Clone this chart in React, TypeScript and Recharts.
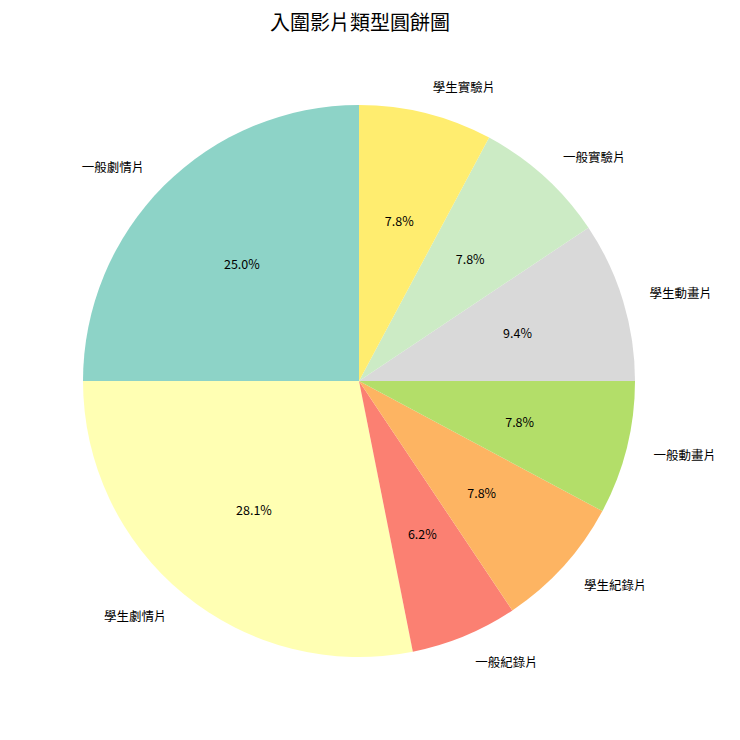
import { PieChart, Pie, Cell } from "recharts";

const categories = ["一般劇情片", "學生劇情片", "一般紀錄片", "學生紀錄片", "一般動畫片", "學生動畫片", "一般實驗片", "學生實驗片"];
const counts = [16, 18, 4, 5, 5, 6, 5, 5];
const colors = ["#8dd3c7", "#ffffb3", "#fb8072", "#fdb462", "#b3de69", "#d9d9d9", "#ccebc5", "#ffed6f"];

const total = counts.reduce((a, b) => a + b, 0);
const data = categories.map((name, i) => ({ name, value: counts[i] }));

const RAD = Math.PI / 180;
const FONT = "'Noto Sans CJK TC', 'Noto Sans', sans-serif";

// one decimal, ties to even (like "%1.1f%%")
const fmtPct = (v: number) => {
  const x = v * 10;
  const f = Math.floor(x);
  const d = x - f;
  let r = f;
  if (Math.abs(d - 0.5) < 1e-9) r = f % 2 === 0 ? f : f + 1;
  else r = Math.round(x);
  return (r / 10).toFixed(1) + "%";
};

const renderLabel = ({ cx, cy, midAngle, outerRadius, name, value }: any) => {
  const cos = Math.cos(-midAngle * RAD);
  const sin = Math.sin(-midAngle * RAD);
  const nx = cx + outerRadius * 1.1 * cos;
  const ny = cy + outerRadius * 1.1 * sin;
  const px = cx + outerRadius * 0.6 * cos;
  const py = cy + outerRadius * 0.6 * sin;
  return (
    <g>
      <text x={nx} y={ny} textAnchor={cos >= 0 ? "start" : "end"} dominantBaseline="central"
        fontSize={12.5} fill="#000" fontFamily={FONT}>
        {name}
      </text>
      <text x={px} y={py} textAnchor="middle" dominantBaseline="central"
        fontSize={12.5} fill="#000" fontFamily={FONT}>
        {fmtPct((value / total) * 100)}
      </text>
    </g>
  );
};

export default function App() {
  return (
    <div style={{ position: "absolute", left: 0, top: 0, width: 740, height: 740, background: "#fff" }}>
      <div style={{ position: "absolute", top: 7, left: 0, width: 720, textAlign: "center", fontFamily: FONT, fontSize: 20, fontWeight: 400, color: "#000", lineHeight: "30px" }}>
        入圍影片類型圓餅圖
      </div>
      <PieChart width={740} height={740} margin={{ top: 0, right: 0, bottom: 0, left: 0 }}>
        <Pie
          data={data}
          dataKey="value"
          nameKey="name"
          cx={359}
          cy={381}
          outerRadius={276}
          startAngle={90}
          endAngle={450}
          stroke="none"
          label={renderLabel}
          labelLine={false}
          isAnimationActive={false}
        >
          {data.map((d, i) => (
            <Cell key={d.name} fill={colors[i]} />
          ))}
        </Pie>
      </PieChart>
    </div>
  );
}
